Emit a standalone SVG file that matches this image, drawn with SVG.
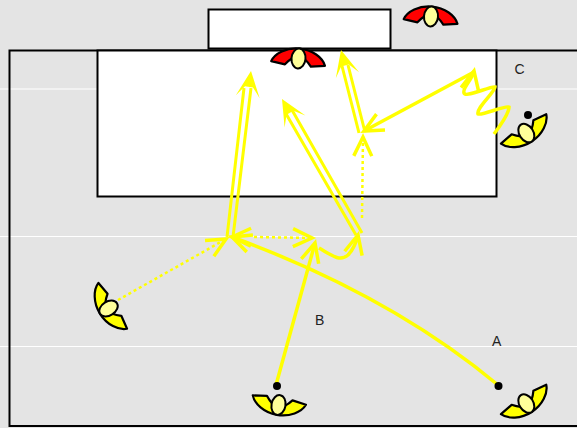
<svg xmlns="http://www.w3.org/2000/svg" width="577" height="428" viewBox="0 0 577 428">
<style>
.ln{fill:none;stroke:#ffff00;stroke-width:3.500}
.dt{fill:none;stroke:#ffff00;stroke-width:2.500;stroke-dasharray:3 3}
.dbl{fill:none;stroke:#ffff00;stroke-width:3}
.box{fill:#fff;stroke:#000;stroke-width:2}
.gl{stroke:#fff;stroke-width:1.2}
.wing{stroke:#000;stroke-width:2.200;stroke-linejoin:round}
.body{fill:#ffff99;stroke:#000;stroke-width:2}
.dot{fill:#000}
text{font-family:"Liberation Sans",Arial,sans-serif;font-size:14px;fill:#222}
</style>
<defs>
<marker id="open" markerUnits="userSpaceOnUse" markerWidth="30" markerHeight="30" refX="24" refY="15" orient="auto" overflow="visible"><path d="M5,6 L24,15 L5,24" fill="none" stroke="#ffff00" stroke-width="3.500"/></marker>
<marker id="solid" markerUnits="userSpaceOnUse" markerWidth="30" markerHeight="30" refX="26" refY="15" orient="auto" overflow="visible"><path d="M0,3 L26,15 L0,27 L10,19 L10,11 Z" fill="#ffff00"/></marker>
<g id="pl"><path class="wing" d="M-27,-5 L-13,-7 Q-10,-3 -6,0 L6,0 Q10,-3 13,-7 L27,-5 C24,3 13,10 0,10 C-13,10 -24,3 -27,-5 Z"/><ellipse class="body" cx="0" cy="0" rx="7" ry="10"/></g>
</defs>
<rect width="577" height="428" fill="#e4e4e4"/>
<g id="grid"><line class="gl" x1="0" y1="89" x2="577" y2="89"/><line class="gl" x1="0" y1="236.500" x2="577" y2="236.500"/><line class="gl" x1="0" y1="346.500" x2="577" y2="346.500"/></g>
<path id="pitch" d="M577,50.500 H9.500 V426 H577" fill="none" stroke="#000" stroke-width="2"/>
<rect id="area" class="box" x="97.500" y="50.500" width="399" height="146"/>
<rect id="goal" class="box" x="208.500" y="9.500" width="182" height="39"/>
<g id="connectors">
<path class="dt" d="M118,300 L226,239" marker-end="url(#open)"/>
<path class="dbl" d="M227,237 L244,88 M233,237 L251,88"/><path d="M230,237 L251,71" fill="none" marker-end="url(#solid)"/>
<path class="dbl" d="M356,235 L285,112 M362,233 L292,110"/><path d="M360,234 L282,99" fill="none" marker-end="url(#solid)"/>
<path class="dbl" d="M359,133 L342,66 M365,132 L348,65"/><path d="M362,132 L341,50" fill="none" marker-end="url(#solid)"/>
<path class="ln" d="M276,385 L315,243" marker-end="url(#open)"/>
<path class="ln" d="M498,385 Q390,295 232,237" marker-end="url(#open)"/>
<path class="dt" d="M254,237 L312,238" marker-end="url(#open)"/>
<path d="M316,238 L232,237" fill="none" marker-end="url(#open)"/>
<path class="ln" d="M319,248 C333,256 340,262 348,255 C352,251 356,243 358,235" marker-end="url(#open)"/>
<path class="dt" d="M362,218 L363,137" marker-end="url(#open)"/>
<path class="ln" d="M474,72 L364,131" marker-end="url(#open)"/>
<path class="ln" d="M494,134 C500,126 509,114 509,107 C505,105 482,116 478,114 C476,108 495,92 495,87 C490,86 466,98 464,93 C462,88 472,80 474,71" marker-end="url(#open)"/>
</g>
<g id="playerA"><circle class="dot" cx="498.500" cy="386" r="4"/><use href="#pl" transform="translate(528,402.500) rotate(-33) translate(-2,0)" fill="#ffff00"/></g>
<g id="playerB"><circle class="dot" cx="277" cy="386" r="4"/><use href="#pl" transform="translate(278.500,405) rotate(10)" fill="#ffff00"/></g>
<g id="playerC"><circle class="dot" cx="528" cy="115" r="4"/><use href="#pl" transform="translate(528,132) rotate(-33) translate(-2,0)" fill="#ffff00"/></g>
<g id="playerD"><use href="#pl" transform="translate(108.500,308.500) rotate(58)" fill="#ffff00"/></g>
<g id="keeper1"><use href="#pl" transform="translate(431,16.500) rotate(5) scale(1,-1)" fill="#ff0000"/></g>
<g id="keeper2"><use href="#pl" transform="translate(298.500,58.500) rotate(5) scale(1,-1)" fill="#ff0000"/></g>
<text id="labelA" x="492" y="346">A</text>
<text id="labelB" x="315" y="325">B</text>
<text id="labelC" x="514.500" y="74">C</text>
</svg>
